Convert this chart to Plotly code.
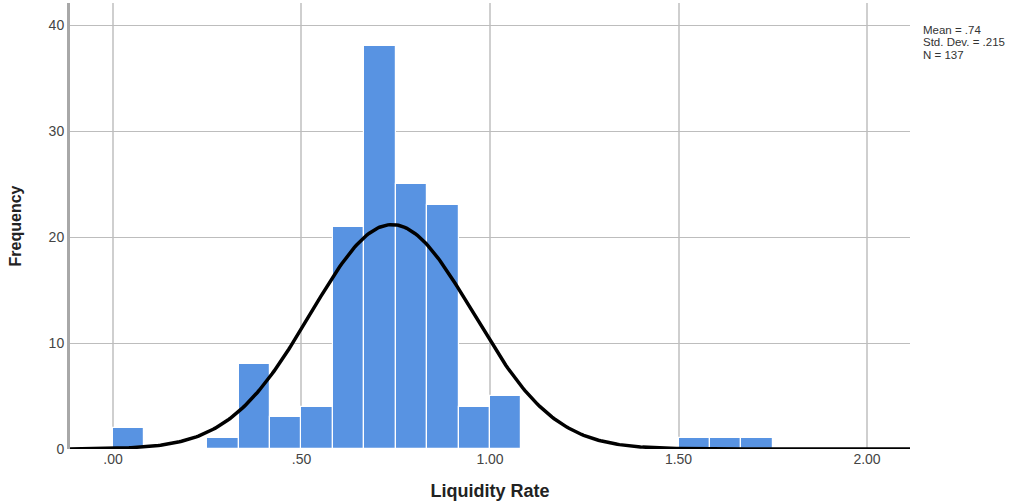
import numpy as np
import plotly.graph_objects as go

# Histogram data (bin lower edges, width 1/12)
bin_width = 1 / 12
bin_lower = [0.0, 0.25, 0.3333, 0.4167, 0.5, 0.5833, 0.6667, 0.75, 0.8333, 0.9167, 1.0, 1.5, 1.5833, 1.6667]
counts = [2, 1, 8, 3, 4, 21, 38, 25, 23, 4, 5, 1, 1, 1]

# Summary statistics shown on chart
mean_val = 0.74
std_val = 0.215
n_val = 137
stats_lines = ["Mean = .74", "Std. Dev. = .215", "N = 137"]

x_tickvals = [0.0, 0.5, 1.0, 1.5, 2.0]
x_ticktext = [".00", ".50", "1.00", "1.50", "2.00"]
y_tickvals = [0, 10, 20, 30, 40]

x_range = [-0.114, 2.114]
y_range = [0, 42.1]

centers = [b + bin_width / 2 for b in bin_lower]

# fitted normal curve scaled to counts
xc = np.linspace(x_range[0], x_range[1], 400)
yc = n_val * bin_width / (std_val * np.sqrt(2 * np.pi)) * np.exp(-0.5 * ((xc - mean_val) / std_val) ** 2)

fig = go.Figure()
fig.add_trace(go.Bar(
    x=centers, y=counts, width=[bin_width] * len(centers),
    marker=dict(color="#5893e2", line=dict(color="white", width=1.2)),
    hoverinfo="x+y", showlegend=False,
))
fig.add_trace(go.Scatter(
    x=xc, y=yc, mode="lines", line=dict(color="black", width=3.5),
    showlegend=False, hoverinfo="skip", cliponaxis=False,
))

annotations = []
for i, line in enumerate(stats_lines):
    annotations.append(dict(
        xref="paper", yref="paper", x=1.0131, y=0.9395 - i * 0.0275,
        xanchor="left", yanchor="middle", text=line, showarrow=False, align="left",
        font=dict(size=11.5, color="#333"),
    ))

fig.update_layout(
    width=1036, height=501,
    margin=dict(l=70, r=126, t=3, b=52, autoexpand=False),
    paper_bgcolor="white", plot_bgcolor="white",
    font=dict(family="Liberation Sans, Arial, sans-serif", color="#333"),
    bargap=0,
    xaxis=dict(
        range=x_range, tickvals=x_tickvals, ticktext=x_ticktext,
        showgrid=True, gridcolor="#cfcfcf", gridwidth=2,
        zeroline=False, showline=False, ticks="", automargin=False,
        tickfont=dict(size=14, color="#444"),
        title=dict(text="<b>Liquidity Rate</b>", font=dict(size=18, color="#222"), standoff=26),
    ),
    yaxis=dict(
        range=y_range, tickvals=y_tickvals,
        showgrid=True, gridcolor="#bdbdbd", gridwidth=1,
        zeroline=False, showline=True, linecolor="#a8a8a8", linewidth=3,
        ticks="", automargin=False, tickfont=dict(size=14, color="#444"),
        title=dict(text="<b>Frequency</b>", font=dict(size=16, color="#222"), standoff=24),
    ),
    annotations=annotations,
)

fig.write_html("out.html", config={"displayModeBar": False},
               post_script="document.body.style.margin='0';")
